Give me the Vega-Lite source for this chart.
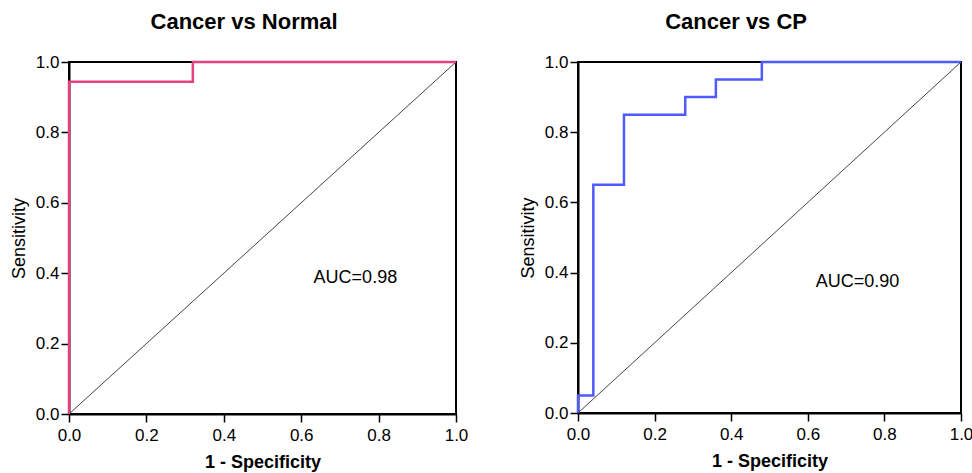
{
  "$schema": "https://vega.github.io/schema/vega-lite/v6.json",
  "background": "white",
  "padding": {"left": 9, "top": 10, "right": 0, "bottom": 2},
  "spacing": 122,
  "bounds": "flush",
  "config": {
    "font": "Liberation Sans",
    "view": {"stroke": "black", "strokeWidth": 2},
    "axis": {
      "grid": false,
      "domainColor": "black",
      "domainWidth": 2,
      "tickColor": "black",
      "tickWidth": 1.5,
      "tickSize": 8,
      "labelFlush": false,
      "labelFont": "Liberation Sans",
      "labelFontSize": 17,
      "labelColor": "black",
      "titleFont": "Liberation Sans",
      "titleFontSize": 18,
      "titleColor": "black"
    },
    "title": {"font": "Liberation Sans", "fontSize": 22, "fontWeight": "bold", "color": "black", "anchor": "middle", "frame": "bounds", "offset": 19}
  },
  "datasets": {
    "diag": [{"x": 0, "y": 0}, {"x": 1, "y": 1}],
    "normal": [
      {"i": 0, "fpr": 0, "tpr": 0},
      {"i": 1, "fpr": 0, "tpr": 0.944},
      {"i": 2, "fpr": 0.32, "tpr": 1},
      {"i": 3, "fpr": 1, "tpr": 1}
    ],
    "cp": [
      {"i": 0, "fpr": 0, "tpr": 0},
      {"i": 1, "fpr": 0, "tpr": 0.05},
      {"i": 2, "fpr": 0.04, "tpr": 0.65},
      {"i": 3, "fpr": 0.12, "tpr": 0.85},
      {"i": 4, "fpr": 0.28, "tpr": 0.9},
      {"i": 5, "fpr": 0.36, "tpr": 0.95},
      {"i": 6, "fpr": 0.48, "tpr": 1},
      {"i": 7, "fpr": 1, "tpr": 1}
    ],
    "auc1": [{"x": 0.74, "y": 0.386, "t": "AUC=0.98"}],
    "auc2": [{"x": 0.73, "y": 0.373, "t": "AUC=0.90"}]
  },
  "hconcat": [
    {
      "title": {"text": "Cancer vs Normal", "dx": 5},
      "width": 387,
      "height": 352,
      "layer": [
        {
          "data": {"name": "diag"},
          "mark": {"type": "line", "color": "#444444", "strokeWidth": 1},
          "encoding": {
            "x": {"field": "x", "type": "quantitative", "scale": {"domain": [0, 1], "nice": false}, "axis": {"values": [0, 0.2, 0.4, 0.6, 0.8, 1], "format": ".1f", "title": "1 - Specificity", "titleFontWeight": "bold", "labelPadding": 5, "titlePadding": 10}},
            "y": {"field": "y", "type": "quantitative", "scale": {"domain": [0, 1], "nice": false}, "axis": {"values": [0, 0.2, 0.4, 0.6, 0.8, 1], "format": ".1f", "title": "Sensitivity", "titleFontWeight": "normal", "labelPadding": 2, "titlePadding": 7}}
          }
        },
        {
          "data": {"name": "normal"},
          "mark": {"type": "line", "interpolate": "step-after", "color": "#E5407F", "strokeWidth": 2.5},
          "encoding": {
            "x": {"field": "fpr", "type": "quantitative"},
            "y": {"field": "tpr", "type": "quantitative"},
            "order": {"field": "i", "type": "quantitative"}
          }
        },
        {
          "data": {"name": "auc1"},
          "mark": {"type": "text", "fontSize": 18, "color": "black", "font": "Liberation Sans"},
          "encoding": {
            "x": {"field": "x", "type": "quantitative"},
            "y": {"field": "y", "type": "quantitative"},
            "text": {"field": "t", "type": "nominal"}
          }
        }
      ]
    },
    {
      "title": {"text": "Cancer vs CP", "dx": -10},
      "width": 383,
      "height": 351,
      "layer": [
        {
          "data": {"name": "diag"},
          "mark": {"type": "line", "color": "#444444", "strokeWidth": 1},
          "encoding": {
            "x": {"field": "x", "type": "quantitative", "scale": {"domain": [0, 1], "nice": false}, "axis": {"values": [0, 0.2, 0.4, 0.6, 0.8, 1], "format": ".1f", "title": "1 - Specificity", "titleFontWeight": "bold", "labelPadding": 5, "titlePadding": 10}},
            "y": {"field": "y", "type": "quantitative", "scale": {"domain": [0, 1], "nice": false}, "axis": {"values": [0, 0.2, 0.4, 0.6, 0.8, 1], "format": ".1f", "title": "Sensitivity", "titleFontWeight": "normal", "labelPadding": 2, "titlePadding": 7}}
          }
        },
        {
          "data": {"name": "cp"},
          "mark": {"type": "line", "interpolate": "step-after", "color": "#4F5BFF", "strokeWidth": 2.5},
          "encoding": {
            "x": {"field": "fpr", "type": "quantitative"},
            "y": {"field": "tpr", "type": "quantitative"},
            "order": {"field": "i", "type": "quantitative"}
          }
        },
        {
          "data": {"name": "auc2"},
          "mark": {"type": "text", "fontSize": 18, "color": "black", "font": "Liberation Sans"},
          "encoding": {
            "x": {"field": "x", "type": "quantitative"},
            "y": {"field": "y", "type": "quantitative"},
            "text": {"field": "t", "type": "nominal"}
          }
        }
      ]
    }
  ]
}
